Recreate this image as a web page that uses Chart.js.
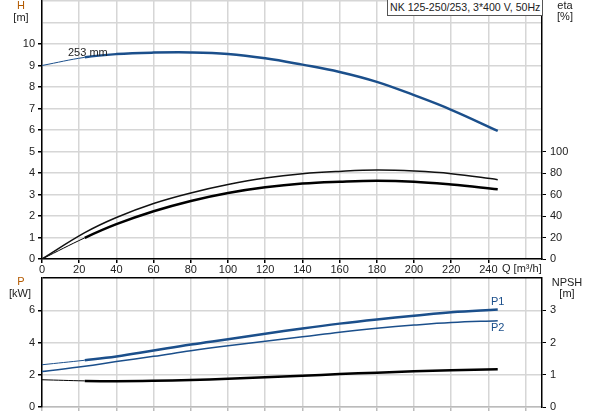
<!DOCTYPE html>
<html lang="en">
  <head>
    <meta charset="UTF-8" />
    <title>NK 125-250/253, 3*400 V, 50Hz</title>
    <script src="https://cdn.jsdelivr.net/npm/chart.js"></script>
    <style>
      body { margin: 0; background: #fff; font-family: "Liberation Sans", Arial, sans-serif; }
      #wrap { position: relative; width: 593px; height: 415px; overflow: hidden; }
      canvas { position: absolute; left: 0; }
      .lbl { position: absolute; font-size: 11px; line-height: 13px; color: #222; white-space: nowrap; }
      .c { text-align: center; width: 40px; }
      #title { position: absolute; left: 387px; top: -1px; width: 152px; height: 15px; border: 1px solid #555;
               font-size: 10.6px; line-height: 15px; padding-left: 2px; color: #222; background: #fff; white-space: nowrap; }
    </style>
  </head>
  <body>
    <div id="wrap">
      <canvas id="topChart" width="593" height="277" style="top: 0"></canvas>
      <canvas id="bottomChart" width="593" height="145" style="top: 270px"></canvas>

      <!-- axis titles -->
      <div class="lbl c" style="left: 1px; top: -1px; color: #b35a00">H</div>
      <div class="lbl c" style="left: 1px; top: 11px">[m]</div>
      <div class="lbl c" style="left: 545px; top: -1px">eta</div>
      <div class="lbl c" style="left: 545px; top: 10px">[%]</div>
      <div class="lbl c" style="left: 1px; top: 275px; color: #b35a00">P</div>
      <div class="lbl c" style="left: 0px; top: 287px">[kW]</div>
      <div class="lbl c" style="left: 547px; top: 276px">NPSH</div>
      <div class="lbl c" style="left: 547px; top: 287px">[m]</div>
      <div class="lbl" style="left: 502px; top: 262px">Q [m³/h]</div>

      <!-- curve labels -->
      <div class="lbl" style="left: 68px; top: 46px">253 mm</div>
      <div class="lbl" style="left: 491px; top: 295px; color: #1b4f8b">P1</div>
      <div class="lbl" style="left: 491px; top: 321px; color: #1b4f8b">P2</div>

      <div id="title">NK 125-250/253, 3*400 V, 50Hz</div>
    </div>

    <script>
      // flow points (m³/h)
      const flow = [0, 23, 40, 60, 80, 100, 120, 140, 160, 180, 200, 220, 245];
      // head H [m]
      const head = [9.0, 9.38, 9.53, 9.6, 9.61, 9.54, 9.34, 9.04, 8.7, 8.24, 7.62, 6.94, 5.96];
      // efficiencies [%]
      const etaPump = [0, 24.5, 38.6, 51.6, 61.4, 69.2, 75.3, 79.3, 81.5, 82.7, 81.8, 79.4, 73.8];
      const etaTotal = [0, 19.7, 32.4, 44.4, 54, 61.4, 66.7, 70.2, 71.9, 72.8, 71.9, 69.2, 64.8];
      // power [kW]
      const powerP1 = [2.62, 2.9, 3.13, 3.5, 3.87, 4.2, 4.54, 4.87, 5.17, 5.43, 5.66, 5.88, 6.05];
      const powerP2 = [2.2, 2.52, 2.82, 3.14, 3.49, 3.8, 4.08, 4.35, 4.64, 4.88, 5.08, 5.24, 5.35];
      // NPSH [m]
      const npsh = [0.845, 0.81, 0.8, 0.812, 0.838, 0.875, 0.92, 0.97, 1.02, 1.065, 1.105, 1.14, 1.17];

      // tick labels that are printed
      const qLabels = [0, 20, 40, 60, 80, 100, 120, 140, 160, 180, 200, 220, 240];
      const hLabels = [0, 1, 2, 3, 4, 5, 6, 7, 8, 9, 10];
      const etaLabels = [0, 20, 40, 60, 80, 100];
      const pLabels = [0, 2, 4, 6];
      const npshLabels = [0, 1, 2, 3];

      const BLUE = "#1b4f8b";
      const GRID = "#d6d6d6";
      const Q_MAX = 268.8;

      Chart.defaults.font.family = '"Liberation Sans", Arial, sans-serif';
      Chart.defaults.font.size = 11;
      Chart.defaults.color = "#222";

      function pts(ys) {
        return flow.map((x, i) => ({ x: x, y: ys[i] }));
      }

      // first stretch (0..23) is drawn thin, rest thick
      function curve(ys, color, width, thinStart, axis) {
        return {
          data: pts(ys),
          borderColor: color,
          borderWidth: width,
          pointRadius: 0,
          tension: 0.4,
          yAxisID: axis,
          segment: {
            borderWidth: (c) => (thinStart && c.p0DataIndex === 0 ? 1 : width),
          },
        };
      }

      function labelCb(list) {
        return (v) => (list.includes(v) ? v : "");
      }
      function tickCol(list, col) {
        return (c) => (c.tick && list.includes(c.tick.value) ? col : "rgba(0,0,0,0)");
      }
      // fixed axis size, no extra room for label overflow
      function fixSize(prop, val) {
        return (s) => {
          s[prop] = val;
          s.paddingTop = 0;
          s.paddingBottom = 0;
          s.paddingLeft = 0;
          s.paddingRight = 0;
        };
      }

      const common = {
        responsive: false,
        animation: false,
        plugins: { legend: { display: false }, tooltip: { enabled: false } },
        events: [],
      };

      // top panel: H and eta
      new Chart(document.getElementById("topChart"), {
        type: "line",
        data: {
          datasets: [
            curve(head, BLUE, 2.5, true, "h"),
            curve(etaPump, "#111", 1.5, false, "eta"),
            curve(etaTotal, "#000", 2.5, true, "eta"),
          ],
        },
        options: {
          ...common,
          layout: { padding: { top: 1, left: 0, right: 0, bottom: 0 } },
          scales: {
            x: {
              type: "linear",
              min: 0,
              max: Q_MAX,
              afterFit: fixSize("height", 18),
              border: { color: "#000", width: 1.5 },
              grid: { color: GRID, lineWidth: 1.5, tickLength: 4, tickColor: tickCol(qLabels, "#000") },
              ticks: { stepSize: 20, includeBounds: false, padding: 0, maxRotation: 0, autoSkip: false, callback: labelCb(qLabels) },
            },
            h: {
              type: "linear",
              position: "left",
              min: 0,
              max: 12,
              afterFit: fixSize("width", 42),
              border: { color: "#000", width: 1.5 },
              grid: { color: GRID, lineWidth: 1.5, tickLength: 4, tickColor: tickCol(hLabels, "#000") },
              ticks: { stepSize: 1, padding: 3, autoSkip: false, callback: labelCb(hLabels) },
            },
            eta: {
              type: "linear",
              position: "right",
              min: 0,
              max: 240,
              afterFit: fixSize("width", 51),
              border: { color: "#000", width: 1.5 },
              grid: { drawOnChartArea: false, tickLength: 4, tickColor: tickCol(etaLabels, "#000") },
              ticks: { stepSize: 20, padding: 4, autoSkip: false, callback: labelCb(etaLabels) },
            },
          },
        },
      });

      // bottom panel: P1, P2 and NPSH
      new Chart(document.getElementById("bottomChart"), {
        type: "line",
        data: {
          datasets: [
            curve(powerP1, BLUE, 2.5, true, "p"),
            curve(powerP2, BLUE, 1.5, false, "p"),
            curve(npsh, "#000", 2.5, true, "npsh"),
          ],
        },
        options: {
          ...common,
          layout: { padding: { top: 8, left: 0, right: 0, bottom: 0 } },
          scales: {
            x: {
              type: "linear",
              min: 0,
              max: Q_MAX,
              afterFit: fixSize("height", 8),
              border: { color: "#bbb", width: 1.5 },
              grid: { color: GRID, lineWidth: 1.5, tickLength: 4, tickColor: "#bbb" },
              ticks: { stepSize: 20, includeBounds: false, display: false },
            },
            p: {
              type: "linear",
              position: "left",
              min: 0,
              max: 8,
              afterFit: fixSize("width", 42),
              border: { color: "#000", width: 1.5 },
              grid: {
                color: (c) => (c.tick && c.tick.value === 8 ? "#000" : GRID),
                lineWidth: 1.5,
                tickLength: 4,
                tickColor: tickCol(pLabels, "#000"),
              },
              ticks: { stepSize: 2, padding: 3, autoSkip: false, callback: labelCb(pLabels) },
            },
            npsh: {
              type: "linear",
              position: "right",
              min: 0,
              max: 4,
              afterFit: fixSize("width", 51),
              border: { color: "#000", width: 1.5 },
              grid: { drawOnChartArea: false, tickLength: 4, tickColor: tickCol(npshLabels, "#000") },
              ticks: { stepSize: 1, padding: 4, autoSkip: false, callback: labelCb(npshLabels) },
            },
          },
        },
      });
    </script>
  </body>
</html>
